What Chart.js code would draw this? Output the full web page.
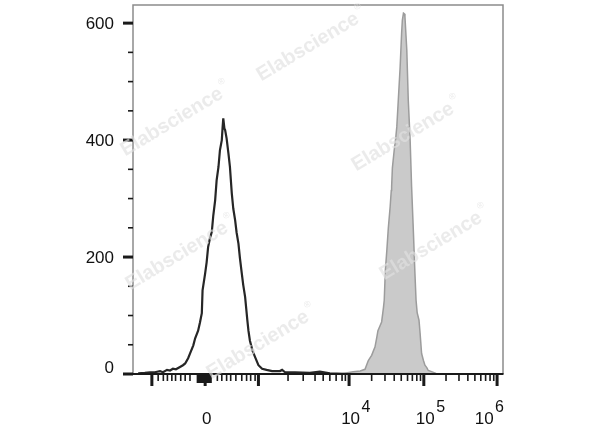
<!DOCTYPE html>
<html><head><meta charset="utf-8">
<script src="https://cdn.jsdelivr.net/npm/chart.js@4"></script>
<style>html,body{margin:0;padding:0;background:#fff}#wrap{width:600px;height:427px;position:relative}</style>
</head><body><div id="wrap"><canvas id="c" width="600" height="427"></canvas></div>
<script>
// ---- data (x = display channel 0..1000, y = count) ----
const openChannels = [14,32,46,59,73,81,92,100,108,116,127,135,141,149,154,163,168,176,181,186,188,195,199,203,208,213,217,222,226,231,235,240,242,244,247,249,253,258,262,267,271,276,280,285,289,294,298,303,309,312,316,323,330,339,349,361,376,397,403,411,438,478,505,532,587];
const openCounts   = [1,2,3,3,5,3,7,6,9,8,12,15,18,27,35,49,61,74,88,104,143,172,191,217,232,243,271,297,331,354,383,400,420,437,420,417,403,377,354,309,283,263,242,223,198,172,152,132,92,74,57,40,29,15,9,7,5,5,7,3,3,2,4,1,0];
const filledChannels = [560,595,614,627,636,641,645,650,654,659,662,668,672,677,679,682,686,690,695,698,699,701,706,710,713,717,722,726,728,731,733,735,740,744,749,753,758,762,765,768,773,776,780,785,789,794,798,807,819,843];
const filledCounts   = [0,4,5,8,23,28,32,40,46,63,74,83,89,114,126,177,211,249,286,314,320,352,383,403,423,468,525,583,605,617,616,611,554,468,400,320,240,172,126,105,92,69,35,23,15,11,6,4,1,0];

const xMajorTicks = [51,195,339,584,786,984];
const xLabelBase  = ['','0','','10','10','10'];
const xLabelExp   = ['','','','4','5','6'];
const xMinorTicks = [68,82,93,105,115,129,141,154,228,240,253,264,278,294,307,318,330,
  419,460,492,514,532,549,565,574,645,681,706,725,742,755,767,777,846,881,905,924,940,953,965,975];
const xDenseTicks = [172,213];
const yMajorTicks = [0,200,400,600];
const yLabels     = ['0','200','400','600'];
const yMinorTicks = [50,100,150,250,300,350,450,500,550];
const watermarkText = 'Elabscience';

const toPts = (xs, ys) => xs.map((v, i) => ({x: v, y: ys[i]}));

const FONT = '"Liberation Sans", Arial, Helvetica, sans-serif';

const axisPlugin = {
  id: 'flowAxes',
  afterDatasetsDraw(chart) {
    const {ctx, chartArea: a, scales: {x, y}} = chart;
    ctx.save();
    // frame
    ctx.strokeStyle = '#8c8c8c'; ctx.lineWidth = 1.5;
    ctx.beginPath();
    ctx.moveTo(a.left, a.bottom); ctx.lineTo(a.left, a.top);
    ctx.lineTo(a.right, a.top); ctx.lineTo(a.right, a.bottom);
    ctx.stroke();
    // bottom axis
    ctx.strokeStyle = '#1a1a1a'; ctx.lineWidth = 2;
    ctx.beginPath(); ctx.moveTo(a.left, a.bottom); ctx.lineTo(a.right + 0.5, a.bottom); ctx.stroke();
    ctx.fillStyle = '#1a1a1a';
    // x ticks
    xMajorTicks.forEach(v => { const p = x.getPixelForValue(v); ctx.fillRect(p - 1.5, a.bottom, 3, 12); });
    xMinorTicks.forEach(v => { const p = x.getPixelForValue(v); ctx.fillRect(p - 0.8, a.bottom, 1.6, 7); });
    const d1 = x.getPixelForValue(xDenseTicks[0]), d2 = x.getPixelForValue(xDenseTicks[1]);
    ctx.fillRect(d1, a.bottom, d2 - d1, 9);
    // y ticks
    yMajorTicks.forEach(v => { const p = y.getPixelForValue(v); ctx.fillRect(a.left - 10, p - 1.5, 10, 3); });
    yMinorTicks.forEach(v => { const p = y.getPixelForValue(v); ctx.fillRect(a.left - 5, p - 0.8, 5, 1.6); });
    // y labels
    ctx.fillStyle = '#111';
    ctx.font = '17px ' + FONT; ctx.textAlign = 'right'; ctx.textBaseline = 'middle';
    yMajorTicks.forEach((v, i) => {
      const p = Math.min(y.getPixelForValue(v), a.bottom - 6.5);
      ctx.fillText(yLabels[i], a.left - 19, p + 1);
    });
    // x labels
    ctx.textBaseline = 'alphabetic'; ctx.textAlign = 'left';
    xMajorTicks.forEach((v, i) => {
      if (!xLabelBase[i]) return;
      ctx.font = '17px ' + FONT;
      const bw = ctx.measureText(xLabelBase[i]).width;
      ctx.font = '16px ' + FONT;
      const ew = xLabelExp[i] ? ctx.measureText(xLabelExp[i]).width + 1.5 : 0;
      let left = x.getPixelForValue(v) + 1.5 - bw / 2;
      const maxRight = a.right + 1;
      if (left + bw + ew > maxRight) left = maxRight - bw - ew;
      ctx.font = '17px ' + FONT;
      ctx.fillText(xLabelBase[i], left, a.bottom + 50);
      if (xLabelExp[i]) { ctx.font = '16px ' + FONT; ctx.fillText(xLabelExp[i], left + bw + 1.5, a.bottom + 38); }
    });
    ctx.restore();
  },
  afterDraw(chart) {
    const {ctx} = chart;
    const spots = [[308,47],[172,122],[403,137],[177,256],[431,246],[258,345]];
    ctx.save();
    ctx.fillStyle = 'rgba(224,224,224,0.65)';
    spots.forEach(([cx, cy]) => {
      ctx.save();
      ctx.translate(cx, cy); ctx.rotate(-31 * Math.PI / 180);
      ctx.font = 'bold 20px ' + FONT; ctx.textAlign = 'center'; ctx.textBaseline = 'middle';
      const w = ctx.measureText(watermarkText).width;
      ctx.fillText(watermarkText, 0, 0);
      ctx.font = '9px ' + FONT; ctx.textAlign = 'left';
      ctx.fillText('\u00AE', w / 2 + 2, -9);
      ctx.restore();
    });
    ctx.restore();
  }
};

new Chart(document.getElementById('c'), {
  type: 'line',
  data: {
    datasets: [
      { data: toPts(filledChannels, filledCounts), fill: 'origin', backgroundColor: '#cacaca',
        borderColor: '#9c9c9c', borderWidth: 1.5, pointRadius: 0, tension: 0 },
      { data: toPts(openChannels, openCounts), fill: false, borderColor: '#262626',
        borderWidth: 2.2, pointRadius: 0, tension: 0 }
    ]
  },
  options: {
    responsive: false, animation: false, devicePixelRatio: 1,
    layout: { padding: { left: 133, right: 97, top: 5, bottom: 53 } },
    plugins: { legend: { display: false }, tooltip: { enabled: false } },
    scales: {
      x: { type: 'linear', min: 0, max: 1000, display: false },
      y: { type: 'linear', min: 0, max: 631, display: false }
    }
  },
  plugins: [axisPlugin]
});
</script></body></html>
